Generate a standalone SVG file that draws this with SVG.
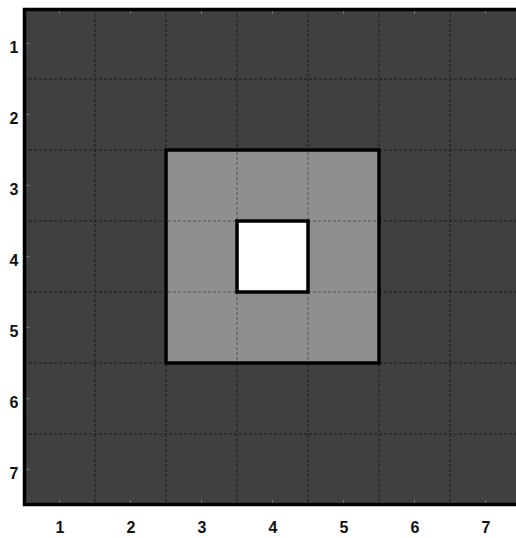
<svg xmlns="http://www.w3.org/2000/svg" width="516" height="538" viewBox="0 0 516 538">
<style>
.lbl{font-family:"Liberation Sans",Arial,sans-serif;font-size:16px;font-weight:bold;fill:#111;text-anchor:middle}
.g{stroke:#1a1a1a;stroke-width:1;stroke-dasharray:3,2;fill:none}
.gl{stroke:#555;stroke-width:1;stroke-dasharray:3,2;fill:none}
.tick{stroke:#777;stroke-width:1}
.box{stroke:#000;stroke-width:3.5}
</style>
<rect x="0" y="0" width="516" height="538" fill="#fff"/>
<g id="grid">
<rect x="24" y="9" width="500" height="496" fill="#404040"/>
<g class="g">
<line x1="95" y1="9" x2="95" y2="505"/>
<line x1="166" y1="9" x2="166" y2="505"/>
<line x1="237" y1="9" x2="237" y2="505"/>
<line x1="308" y1="9" x2="308" y2="505"/>
<line x1="379" y1="9" x2="379" y2="505"/>
<line x1="450" y1="9" x2="450" y2="505"/>
<line x1="24" y1="79" x2="516" y2="79"/>
<line x1="24" y1="150" x2="516" y2="150"/>
<line x1="24" y1="221" x2="516" y2="221"/>
<line x1="24" y1="292" x2="516" y2="292"/>
<line x1="24" y1="363" x2="516" y2="363"/>
<line x1="24" y1="434" x2="516" y2="434"/>
</g>
</g>
<g id="outer-square">
<rect x="166" y="150" width="213" height="213" fill="#8f8f8f" class="box"/>
<g class="gl">
<line x1="237" y1="152" x2="237" y2="361"/>
<line x1="308" y1="152" x2="308" y2="361"/>
<line x1="168" y1="221" x2="377" y2="221"/>
<line x1="168" y1="292" x2="377" y2="292"/>
</g>
</g>
<g id="inner-square">
<rect x="237" y="221" width="71" height="71" fill="#fff" class="box"/>
</g>
<g id="ticks" class="tick">
<line x1="26" y1="43.5" x2="29" y2="43.5"/>
<line x1="26" y1="114.5" x2="29" y2="114.5"/>
<line x1="26" y1="185.5" x2="29" y2="185.5"/>
<line x1="26" y1="256.5" x2="29" y2="256.5"/>
<line x1="26" y1="327.5" x2="29" y2="327.5"/>
<line x1="26" y1="398.5" x2="29" y2="398.5"/>
<line x1="26" y1="469.5" x2="29" y2="469.5"/>
<line x1="59.5" y1="11" x2="59.5" y2="14"/>
<line x1="130.5" y1="11" x2="130.5" y2="14"/>
<line x1="201.5" y1="11" x2="201.5" y2="14"/>
<line x1="272.5" y1="11" x2="272.5" y2="14"/>
<line x1="343.5" y1="11" x2="343.5" y2="14"/>
<line x1="414.5" y1="11" x2="414.5" y2="14"/>
<line x1="485.5" y1="11" x2="485.5" y2="14"/>
<line x1="59.5" y1="500" x2="59.5" y2="503"/>
<line x1="130.5" y1="500" x2="130.5" y2="503"/>
<line x1="201.5" y1="500" x2="201.5" y2="503"/>
<line x1="272.5" y1="500" x2="272.5" y2="503"/>
<line x1="343.5" y1="500" x2="343.5" y2="503"/>
<line x1="414.5" y1="500" x2="414.5" y2="503"/>
<line x1="485.5" y1="500" x2="485.5" y2="503"/>
</g>
<g id="frame" fill="none" stroke="#000" stroke-width="3.5">
<path d="M516 9.5 H24.5 V504.5 H516"/>
</g>
<g id="y-labels">
<text class="lbl" x="14" y="53">1</text>
<text class="lbl" x="14" y="124">2</text>
<text class="lbl" x="14" y="195">3</text>
<text class="lbl" x="14" y="266">4</text>
<text class="lbl" x="14" y="337">5</text>
<text class="lbl" x="14" y="408">6</text>
<text class="lbl" x="14" y="479">7</text>
</g>
<g id="x-labels">
<text class="lbl" x="60" y="533">1</text>
<text class="lbl" x="131" y="533">2</text>
<text class="lbl" x="202" y="533">3</text>
<text class="lbl" x="273" y="533">4</text>
<text class="lbl" x="344" y="533">5</text>
<text class="lbl" x="415" y="533">6</text>
<text class="lbl" x="486" y="533">7</text>
</g>
</svg>
